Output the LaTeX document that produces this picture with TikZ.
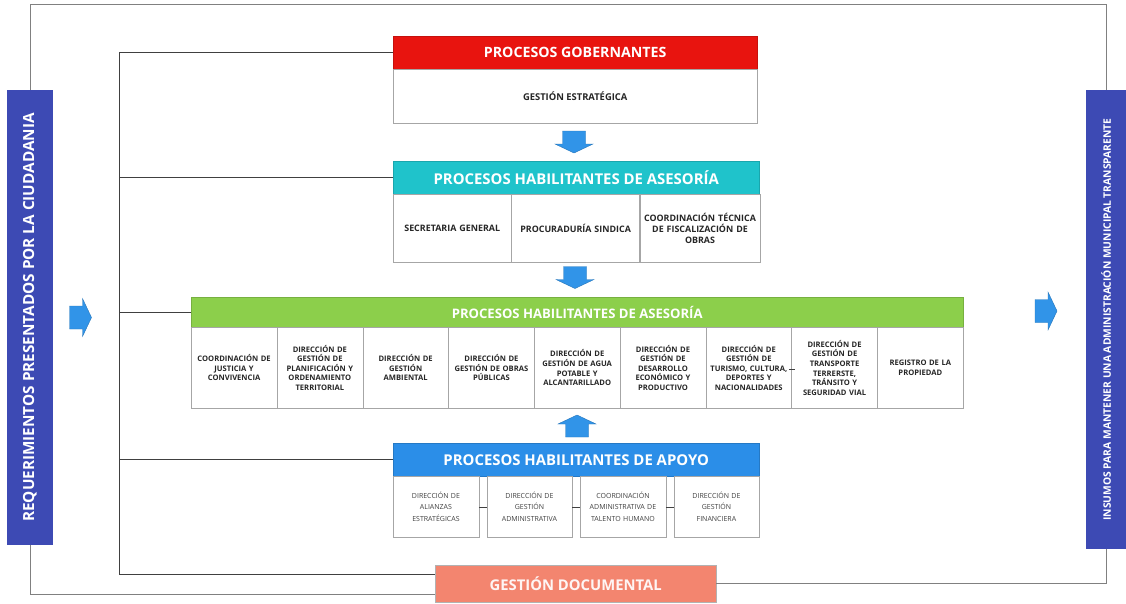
\documentclass[tikz,border=0pt]{standalone}
\usepackage{fontspec}
\setmainfont{Open Sans}
\usetikzlibrary{positioning}

\definecolor{gobred}{HTML}{E8140F}
\definecolor{asecyan}{HTML}{1FC3CB}
\definecolor{opegreen}{HTML}{8CCF4B}
\definecolor{apoblue}{HTML}{2B8EE8}
\definecolor{sidebar}{HTML}{3D4AB4}
\definecolor{docsalmon}{HTML}{F3856F}
\definecolor{arrblue}{HTML}{3194E8}

\tikzset{
  head/.style={draw=#1!85!black, fill=#1, text=white, font=\bfseries\fontsize{14.9}{16}\selectfont,
    minimum height=33pt, inner sep=0pt, anchor=north west},
  cell/.style={draw=black!35, fill=white, font=\bfseries\fontsize{8.9}{11}\selectfont, text=black!85,
    align=center, inner sep=0pt},
  apocell/.style={cell, font=\fontsize{7}{11.4}\selectfont, text=black!75},
  barra/.style={fill=sidebar, text=white, rotate=90, inner sep=0pt},
  marco/.style={draw=black!50, line width=0.9pt},
  linea/.style={draw=black!75, line width=0.9pt},
  flecha/.style={fill=arrblue, draw=arrblue!80!black, line width=0.4pt}
}

\begin{document}
\begin{tikzpicture}[x=1pt,y=-1pt]
    \useasboundingbox (0,0) rectangle (1126,603);

    % barras laterales
    \node[barra, minimum width=455pt, minimum height=46pt, font=\bfseries\fontsize{15.3}{17}\selectfont]
        (req) at (30,317.5) {REQUERIMIENTOS PRESENTADOS POR LA CIUDADANIA};
    \node[barra, minimum width=459pt, minimum height=40pt, font=\bfseries\fontsize{10.3}{12}\selectfont]
        (ins) at (1106,319.5) {INSUMOS PARA MANTENER UNA ADMINISTRACIÓN MUNICIPAL TRANSPARENTE};

    % procesos gobernantes
    \node[head=gobred, minimum width=364pt, font=\bfseries\fontsize{14.2}{15}\selectfont]
        (gob) at (393,36) {PROCESOS GOBERNANTES};
    \node[cell, minimum width=364pt, minimum height=54pt, font=\bfseries\fontsize{9.4}{11}\selectfont,
        below right=0pt and 0pt of gob.south west] (gob1) {GESTIÓN ESTRATÉGICA};

    % asesoria
    \node[head=asecyan, minimum width=366pt] (ase) at (393,161) {PROCESOS HABILITANTES DE ASESORÍA};
    \node[cell, text width=118pt, minimum height=68pt, below right=0pt and 0pt of ase.south west]
        (ase1) {SECRETARIA GENERAL};
    \node[cell, text width=128pt, minimum height=68pt, right=0pt of ase1] (ase2) {PROCURADURÍA SINDICA};
    \node[cell, text width=120pt, minimum height=68pt, right=0pt of ase2]
        (ase3) {COORDINACIÓN TÉCNICA\\DE FISCALIZACIÓN DE\\OBRAS};

    % operativos
    \node[head=opegreen, minimum width=772pt, minimum height=30pt, font=\bfseries\fontsize{13.1}{14}\selectfont]
        (ope) at (191,297) {PROCESOS HABILITANTES DE ASESORÍA};
    \foreach \t [count=\i] in {
        {COORDINACIÓN DE\\JUSTICIA Y\\CONVIVENCIA},
        {DIRECCIÓN DE\\GESTIÓN DE\\PLANIFICACIÓN Y\\ORDENAMIENTO\\TERRITORIAL},
        {DIRECCIÓN DE\\GESTIÓN\\AMBIENTAL},
        {DIRECCIÓN DE\\GESTIÓN DE OBRAS\\PÚBLICAS},
        {DIRECCIÓN DE\\GESTIÓN DE AGUA\\POTABLE Y\\ALCANTARILLADO},
        {DIRECCIÓN DE\\GESTIÓN DE\\DESARROLLO\\ECONÓMICO Y\\PRODUCTIVO},
        {DIRECCIÓN DE\\GESTIÓN DE\\TURISMO, CULTURA,\\DEPORTES Y\\NACIONALIDADES},
        {DIRECCIÓN DE\\GESTIÓN DE\\TRANSPORTE\\TERRERSTE,\\TRÁNSITO Y\\SEGURIDAD VIAL},
        {REGISTRO DE LA\\PROPIEDAD}}{
        \node[cell, font=\bfseries\fontsize{7.6}{9.6}\selectfont, text width=85.78pt, minimum height=81pt,
            anchor=north west] (ope\i) at ({191+(\i-1)*85.78},327) {\t};
    }
    \draw[linea, thin] ([xshift=-3pt,yshift=-1pt]ope7.east) -- ([xshift=3pt,yshift=-1pt]ope7.east);

    % apoyo
    \node[head=apoblue, minimum width=366pt] (apo) at (393,443) {PROCESOS HABILITANTES DE APOYO};
    \foreach \t [count=\i] in {
        {DIRECCIÓN DE\\ALIANZAS\\ESTRATÉGICAS},
        {DIRECCIÓN DE\\GESTIÓN\\ADMINISTRATIVA},
        {COORDINACIÓN\\ADMINISTRATIVA DE\\TALENTO HUMANO},
        {DIRECCIÓN DE\\GESTIÓN\\FINANCIERA}}{
        \node[apocell, text width=85.5pt, minimum height=61pt, anchor=north west]
            (apo\i) at ({393+(\i-1)*93.5},476) {\t};
    }
    \foreach \i/\j in {1/2,2/3,3/4}
        \draw[linea, thin] (apo\i.east) -- (apo\j.west);

    % gestion documental
    \node[head=docsalmon, draw=black!30, minimum width=281pt, minimum height=37pt, text=white!92!docsalmon,
        font=\bfseries\fontsize{14.8}{16}\selectfont] (doc) at (435,565) {GESTIÓN DOCUMENTAL};

    % flechas de bloque
    \foreach \px/\py/\ang in {574/142/-90, 575/277.5/-90, 577/426/90, 80.5/317.5/0, 1046/311/0}
        \draw[flecha, shift={(\px,\py)}, rotate=\ang]
            (-11,-11.5) -- (2,-11.5) -- (2,-19) -- (11,0) -- (2,19) -- (2,11.5) -- (-11,11.5) -- cycle;

    % marco exterior
    \coordinate (esqA) at (30,4);
    \coordinate (esqB) at (1106,4);
    \draw[marco] (req.east) -- (esqA) -- (esqB) -- (ins.east);
    \draw[marco] (req.west) |- ([yshift=-10.5pt]doc.west);
    \draw[marco] (doc.east) -| (ins.west);

    % arbol interior
    \coordinate (tronco) at (119,52);
    \draw[linea] (gob.west) -- (gob.west -| tronco) |- ([yshift=9pt]doc.west);
    \foreach \n in {ase,ope,apo}
        \draw[linea] (\n.west) -- (\n.west -| tronco);

\end{tikzpicture}
\end{document}
